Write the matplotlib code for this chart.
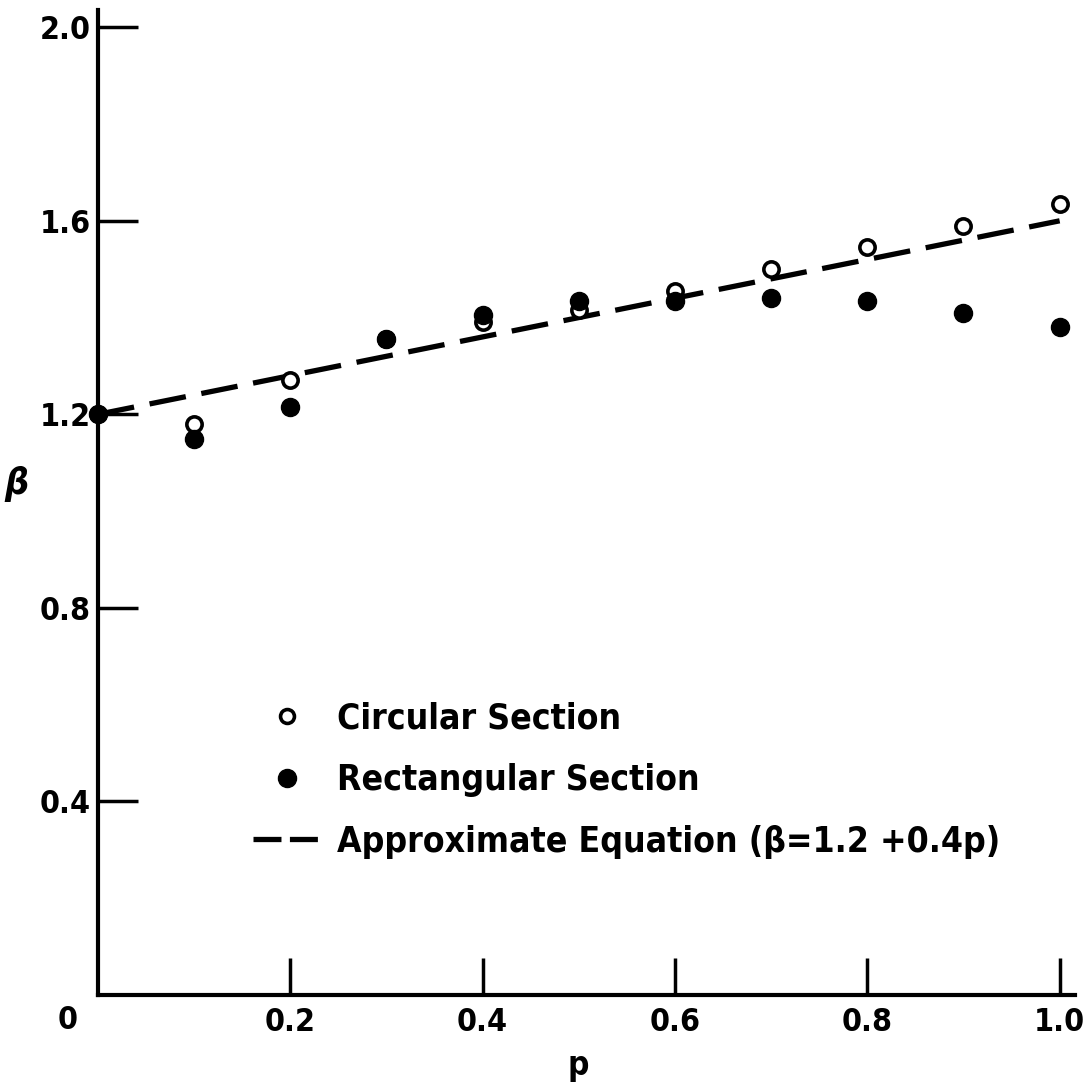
import matplotlib
matplotlib.use('Agg')
import matplotlib.pyplot as plt
from matplotlib.lines import Line2D

p = [0.0, 0.1, 0.2, 0.3, 0.4, 0.5, 0.6, 0.7, 0.8, 0.9, 1.0]
beta_circular = [1.20, 1.18, 1.27, 1.355, 1.39, 1.415, 1.455, 1.50, 1.545, 1.59, 1.635]
beta_rect = [1.20, 1.15, 1.215, 1.355, 1.405, 1.435, 1.435, 1.44, 1.435, 1.41, 1.38]
p_line = [0.0, 1.0]
beta_line = [1.2, 1.6]

x_ticks = [0.2, 0.4, 0.6, 0.8, 1.0]
x_labels = ['0.2', '0.4', '0.6', '0.8', '1.0']
y_ticks = [0.4, 0.8, 1.2, 1.6, 2.0]
y_labels = ['0.4', '0.8', '1.2', '1.6', '2.0']

plt.rcParams['font.family'] = ['DejaVu Sans']
plt.rcParams['font.weight'] = 'bold'
plt.rcParams['font.stretch'] = 'condensed'

fig = plt.figure(figsize=(10.87, 10.88), dpi=100)
ax = fig.add_axes([0.090, 0.0855, 0.899, 0.905])

ax.plot(p_line, beta_line, color='black', lw=3.8, dashes=(7, 3), zorder=2)
ax.plot(p, beta_circular, 'o', ms=11, mfc='white', mec='black', mew=2.6,
        zorder=3, clip_on=False)
ax.plot(p, beta_rect, 'o', ms=13, color='black', zorder=4, clip_on=False)

ax.set_xlim(0, 1.016)
ax.set_ylim(0, 2.035)

for side in ['top', 'right']:
    ax.spines[side].set_visible(False)
for side in ['left', 'bottom']:
    ax.spines[side].set_linewidth(3)

ax.set_xticks(x_ticks)
ax.set_xticklabels(x_labels)
ax.set_yticks(y_ticks)
ax.set_yticklabels(y_labels)
ax.tick_params(axis='x', direction='in', length=27, width=2.5, pad=9, labelsize=23)
ax.tick_params(axis='y', direction='in', length=29, width=2.5, pad=5, labelsize=23)

ax.text(-0.031, -0.052, '0', fontsize=23, ha='center', va='center')
ax.text(0.5, -0.145, 'p', fontsize=24, ha='center', va='center', clip_on=False)
fig.text(0.015, 0.555, 'β', fontsize=27, fontstyle='italic', ha='center', va='center')

handles = [
    Line2D([], [], ls='none', marker='o', ms=10, mfc='white', mec='black', mew=2.6),
    Line2D([], [], ls='none', marker='o', ms=13, color='black'),
    Line2D([], [], color='black', lw=3.8, dashes=(5.3, 1.6)),
]
labels = ['Circular Section', 'Rectangular Section',
          'Approximate Equation (β=1.2 +0.4p)']
ax.legend(handles, labels, loc='upper left', bbox_to_anchor=(0.141, 0.316),
          frameon=False, borderpad=0, fontsize=25.5, handlelength=1.9,
          handletextpad=0.45, labelspacing=0.78)

fig.savefig('out.png', dpi=100)
